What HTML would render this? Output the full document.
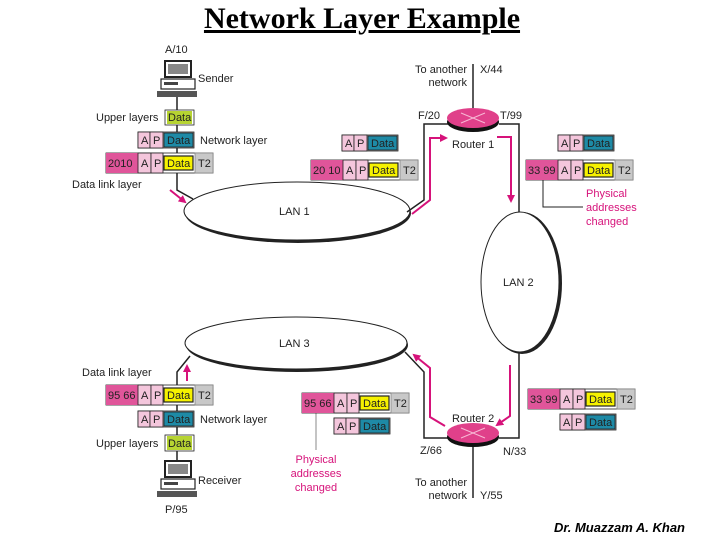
<!DOCTYPE html>
<html><head><meta charset="utf-8"><style>
body{margin:0;background:#fff;}
svg{display:block;}
text{font-family:"Liberation Sans",sans-serif;font-size:11px;fill:#222;}
.pk{fill:#d6127a;font-size:11px;}
</style></head><body>
<svg width="720" height="540" viewBox="0 0 720 540" xmlns="http://www.w3.org/2000/svg">
<defs>
<marker id="ah" markerWidth="8" markerHeight="8" refX="6" refY="4" orient="auto" markerUnits="userSpaceOnUse"><path d="M0,0 L8,4 L0,8 z" fill="#d6127a"/></marker>
<g id="pc">
<rect x="4" y="0" width="26" height="16" fill="#fff" stroke="#222" stroke-width="2"/>
<rect x="7" y="3" width="20" height="10" fill="#888"/>
<rect x="0" y="18" width="34" height="10" fill="#fff" stroke="#222" stroke-width="1.2"/>
<rect x="3" y="21" width="14" height="3" fill="#444"/>
<rect x="-4" y="30" width="40" height="6" fill="#555"/>
</g>
<g id="apd">
<rect x="0" y="0" width="56" height="16" fill="#fff" stroke="#222" stroke-width="0.8"/>
<rect x="0" y="0" width="12" height="16" fill="#f4c6dc" stroke="#222" stroke-width="0.8"/>
<rect x="12" y="0" width="13" height="16" fill="#f4c6dc" stroke="#222" stroke-width="0.8"/>
<rect x="26" y="1" width="29" height="14" fill="#1e8aa6" stroke="#222" stroke-width="0.8"/>
<text x="3" y="12">A</text><text x="15" y="12">P</text><text x="29" y="12" fill="#111">Data</text>
</g>
<g id="frame">
<rect x="0" y="0" width="107" height="20" fill="#fff" stroke="#222" stroke-width="0.8"/>
<rect x="0" y="0" width="32" height="20" fill="#e0559a"/>
<rect x="32" y="0" width="13" height="20" fill="#f4c6dc" stroke="#222" stroke-width="0.8"/>
<rect x="45" y="0" width="12" height="20" fill="#f4c6dc" stroke="#222" stroke-width="0.8"/>
<rect x="58" y="3" width="29" height="14" fill="#f6f200" stroke="#222" stroke-width="1.2"/>
<rect x="89" y="0" width="18" height="20" fill="#c8c8c8" stroke="#888" stroke-width="0.8"/>
<text x="35" y="14">A</text><text x="48" y="14">P</text><text x="61" y="14">Data</text><text x="92" y="14">T2</text>
</g>
</defs>

<text x="362" y="28" text-anchor="middle" style="font-family:'Liberation Serif',serif;font-size:30px;font-weight:bold;fill:#000;text-decoration:underline">Network Layer Example</text>

<!-- LANs -->
<ellipse cx="298" cy="213" rx="113" ry="30" fill="#222"/>
<ellipse cx="297" cy="211" rx="113" ry="29" fill="#fff" stroke="#222" stroke-width="1"/>
<text x="279" y="215">LAN 1</text>
<ellipse cx="522" cy="283" rx="40" ry="71" fill="#222"/>
<ellipse cx="520" cy="282" rx="39" ry="70" fill="#fff" stroke="#222" stroke-width="1"/>
<text x="503" y="286">LAN 2</text>
<ellipse cx="297" cy="345" rx="111" ry="27" fill="#222"/>
<ellipse cx="296" cy="343" rx="111" ry="26" fill="#fff" stroke="#222" stroke-width="1"/>
<text x="279" y="347">LAN 3</text>

<g stroke="#222" stroke-width="1.5" fill="none">
<path d="M177,96 V190 L193,199"/>
<path d="M448,124 H424 V200 L407,212"/>
<path d="M499,124 H519 V212"/>
<path d="M473,64 V110"/>
<path d="M177,460 V372 L190,356"/>
<path d="M448,438 H424 V372 L405,352"/>
<path d="M499,438 H519 V353"/>
<path d="M473,442 V498"/>
<path d="M543,180 V207 H583" stroke-width="1"/>
<path d="M316,413 V450" stroke-width="1" stroke="#888"/>
</g>

<ellipse cx="473" cy="122" rx="26" ry="10" fill="#111"/>
<ellipse cx="473" cy="118" rx="26" ry="10" fill="#e0408a"/>
<path d="M461,113 L485,123 M461,123 L485,113" stroke="#f7b8d4" stroke-width="1"/>
<ellipse cx="473" cy="437" rx="26" ry="10" fill="#111"/>
<ellipse cx="473" cy="433" rx="26" ry="10" fill="#e0408a"/>
<path d="M461,428 L485,438 M461,438 L485,428" stroke="#f7b8d4" stroke-width="1"/>

<g stroke="#d6127a" stroke-width="2" fill="none" marker-end="url(#ah)">
<path d="M170,190 L185,202"/>
<path d="M412,214 L430,200 V138 H446"/>
<path d="M497,137 H511 V201"/>
<path d="M187,381 V366"/>
<path d="M445,426 L430,417 V368 L414,355"/>
<path d="M510,365 V416 L497,425"/>
</g>

<use href="#pc" x="161" y="61"/>
<use href="#pc" x="161" y="461"/>

<text x="165" y="53">A/10</text>
<text x="198" y="82">Sender</text>
<text x="96" y="121">Upper layers</text>
<rect x="165" y="110" width="29" height="15" fill="#fff" stroke="#222" stroke-width="0.8"/>
<rect x="167" y="111" width="25" height="13" fill="#b7d432"/>
<text x="168" y="121">Data</text>
<use href="#apd" x="138" y="132"/>
<text x="200" y="144">Network layer</text>
<use href="#frame" x="106" y="153"/>
<text x="108" y="167">2010</text>
<text x="72" y="188">Data link layer</text>

<text x="467" y="73" text-anchor="end">To another</text>
<text x="467" y="86" text-anchor="end">network</text>
<text x="480" y="73">X/44</text>
<text x="418" y="119">F/20</text>
<text x="500" y="119">T/99</text>
<text x="452" y="148">Router 1</text>
<use href="#apd" x="342" y="135"/>
<use href="#frame" x="311" y="160"/>
<text x="313" y="174">20 10</text>
<use href="#apd" x="558" y="135"/>
<use href="#frame" x="526" y="160"/>
<text x="528" y="174">33 99</text>
<text x="586" y="197" class="pk">Physical</text>
<text x="586" y="211" class="pk">addresses</text>
<text x="586" y="225" class="pk">changed</text>

<text x="82" y="376">Data link layer</text>
<use href="#frame" x="106" y="385"/>
<text x="108" y="399">95 66</text>
<use href="#apd" x="138" y="411"/>
<text x="200" y="423">Network layer</text>
<text x="96" y="447">Upper layers</text>
<rect x="165" y="435" width="29" height="16" fill="#fff" stroke="#222" stroke-width="0.8"/>
<rect x="167" y="436" width="25" height="14" fill="#b7d432"/>
<text x="168" y="447">Data</text>
<text x="198" y="484">Receiver</text>
<text x="165" y="513">P/95</text>

<use href="#frame" x="302" y="393"/>
<text x="304" y="407">95 66</text>
<use href="#apd" x="334" y="418"/>
<text x="316" y="463" class="pk" text-anchor="middle">Physical</text>
<text x="316" y="477" class="pk" text-anchor="middle">addresses</text>
<text x="316" y="491" class="pk" text-anchor="middle">changed</text>

<text x="452" y="422">Router 2</text>
<text x="420" y="454">Z/66</text>
<text x="503" y="455">N/33</text>
<text x="467" y="486" text-anchor="end">To another</text>
<text x="467" y="499" text-anchor="end">network</text>
<text x="480" y="499">Y/55</text>
<use href="#frame" x="528" y="389"/>
<text x="530" y="403">33 99</text>
<use href="#apd" x="560" y="414"/>

<text x="685" y="532" text-anchor="end" style="font-size:13px;font-style:italic;font-weight:bold;fill:#000">Dr. Muazzam A. Khan</text>
</svg>
</body></html>
